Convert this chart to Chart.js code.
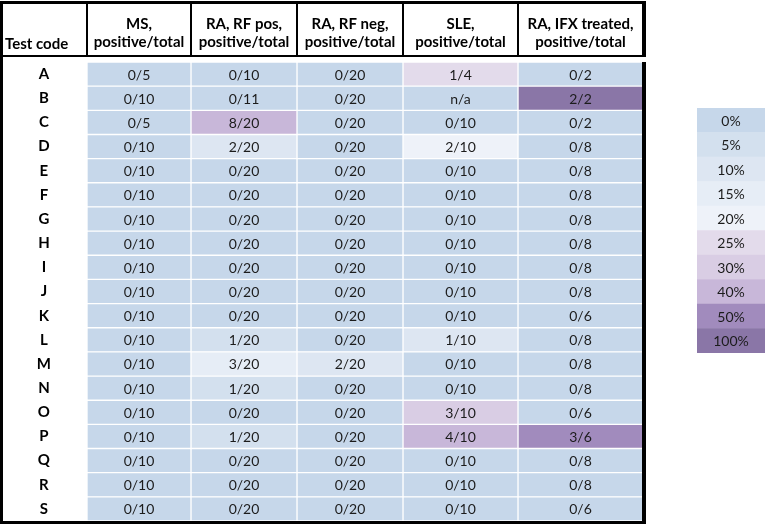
<!DOCTYPE html>
<html><head><meta charset="utf-8">
<script src="https://cdn.jsdelivr.net/npm/chart.js@4.4.1/dist/chart.umd.min.js"></script>
<style>
html,body{margin:0;padding:0;background:#fff;overflow:hidden;}
#wrap{position:relative;width:767px;height:526px;}
#main{position:absolute;left:0;top:0;}
#leg{position:absolute;left:697px;top:108px;}
</style></head><body>
<div id="wrap"><canvas id="main" width="767" height="526"></canvas><canvas id="leg" width="68" height="245"></canvas></div>
<script>
// ---------- data ----------
const rowCodes = ['A','B','C','D','E','F','G','H','I','J','K','L','M','N','O','P','Q','R','S'];
const rowHeaderTitle = 'Test code';
const columnTitles = [
  ['MS,', 'positive/total'],
  ['RA, RF pos,', 'positive/total'],
  ['RA, RF neg,', 'positive/total'],
  ['SLE,', 'positive/total'],
  ['RA, IFX treated,', 'positive/total']
];
const msCounts = ['0/5','0/10','0/5','0/10','0/10','0/10','0/10','0/10','0/10','0/10','0/10','0/10','0/10','0/10','0/10','0/10','0/10','0/10','0/10'];
const raRfPosCounts = ['0/10','0/11','8/20','2/20','0/20','0/20','0/20','0/20','0/20','0/20','0/20','1/20','3/20','1/20','0/20','1/20','0/20','0/20','0/20'];
const raRfNegCounts = ['0/20','0/20','0/20','0/20','0/20','0/20','0/20','0/20','0/20','0/20','0/20','0/20','2/20','0/20','0/20','0/20','0/20','0/20','0/20'];
const sleCounts = ['1/4','n/a','0/10','2/10','0/10','0/10','0/10','0/10','0/10','0/10','0/10','1/10','0/10','0/10','3/10','4/10','0/10','0/10','0/10'];
const raIfxCounts = ['0/2','2/2','0/2','0/8','0/8','0/8','0/8','0/8','0/8','0/8','0/6','0/8','0/8','0/8','0/6','3/6','0/8','0/8','0/6'];
const legendLabels = ['0%','5%','10%','15%','20%','25%','30%','40%','50%','100%'];
const legendThresholds = [0,5,10,15,20,25,30,40,50,100];

// ---------- styles / layout ----------
const legendColors = ['#c6d7ea','#d3e0ee','#dde6f2','#e6edf6','#eef2f9','#e3dbeb','#d9cde4','#c8b7d9','#a18bbd','#8a76a7'];
const colWidths = [104,106,106,115,125];
const FONT = 'Lato, "Open Sans", sans-serif';

const columns = [msCounts, raRfPosCounts, raRfNegCounts, sleCounts, raIfxCounts];
const colEdges = [0];
colWidths.forEach(w => colEdges.push(colEdges[colEdges.length-1] + w));

function colorFor(s) {
  if (!s.includes('/')) return legendColors[0];
  const [a, b] = s.split('/').map(Number);
  const pct = a / b * 100;
  let idx = 0;
  legendThresholds.forEach((t, i) => { if (pct + 1e-9 >= t) idx = i; });
  return legendColors[idx];
}

const tablePlugin = {
  id: 'tableDecor',
  afterDatasetsDraw(chart) {
    const ctx = chart.ctx;
    ctx.save();
    ctx.fillStyle = '#1c1c1c';
    ctx.font = '14px ' + FONT;
    ctx.textAlign = 'center';
    ctx.textBaseline = 'middle';
    chart.data.datasets.forEach((ds, di) => {
      chart.getDatasetMeta(di).data.forEach((el, j) => {
        const p = el.getProps(['x','y','base'], true);
        ctx.fillText(ds.labels[j], (p.x + p.base) / 2, p.y + 1);
      });
    });
    ctx.restore();
  },
  afterDraw(chart) {
    const ctx = chart.ctx;
    const xs = chart.scales.x;
    const px = colEdges.map(v => xs.getPixelForValue(v));
    ctx.save();
    ctx.fillStyle = '#000';
    const right = px[px.length - 1];
    // outer borders
    ctx.fillRect(0, 1, right + 3, 3);           // top
    ctx.fillRect(0, 1, 3, 523);                 // left
    ctx.fillRect(0, 521, right + 3, 3);         // bottom
    ctx.fillRect(right - 1, 1, 4, 56);          // right (header)
    ctx.fillRect(right - 1, 62, 4, 462);        // right (body)
    ctx.fillRect(0, 55, right + 3, 2);          // header bottom
    // header column lines
    for (let i = 0; i < px.length - 1; i++) ctx.fillRect(px[i] - 1, 1, 2, 56);
    // header text
    ctx.font = 'bold 15px ' + FONT;
    ctx.textBaseline = 'alphabetic';
    ctx.textAlign = 'left';
    ctx.fillText(rowHeaderTitle, 5, 49);
    ctx.textAlign = 'center';
    columnTitles.forEach((lines, i) => {
      const cx = (px[i] + px[i+1]) / 2;
      ctx.fillText(lines[0], cx, 29);
      ctx.fillText(lines[1], cx, 47);
    });
    ctx.restore();
  }
};

new Chart(document.getElementById('main'), {
  type: 'bar',
  data: {
    labels: rowCodes,
    datasets: columns.map((vals, i) => ({
      data: vals.map(() => [colEdges[i], colEdges[i+1]]),
      labels: vals,
      backgroundColor: vals.map(colorFor),
      borderColor: '#ffffff',
      borderWidth: 1,
      borderSkipped: false,
      categoryPercentage: 1,
      barPercentage: 1,
      grouped: false
    }))
  },
  options: {
    indexAxis: 'y',
    responsive: false,
    animation: false,
    events: [],
    layout: { padding: { left: 2, right: 124, top: 62, bottom: 5 } },
    scales: {
      x: { type: 'linear', min: 0, max: colEdges[colEdges.length-1], display: false },
      y: {
        type: 'category',
        offset: true,
        grid: { display: false },
        border: { display: false },
        ticks: { font: { family: FONT, weight: 'bold', size: 15 }, color: '#000', crossAlign: 'center', padding: 28 },
        afterFit(s) { s.width = 85; s.paddingTop = 0; s.paddingBottom = 0; }
      }
    },
    plugins: { legend: { display: false }, tooltip: { enabled: false } }
  },
  plugins: [tablePlugin]
});

const legendTextPlugin = {
  id: 'legText',
  afterDatasetsDraw(chart) {
    const ctx = chart.ctx;
    ctx.save();
    ctx.fillStyle = '#1c1c1c';
    ctx.font = '14px ' + FONT;
    ctx.textAlign = 'center';
    ctx.textBaseline = 'middle';
    chart.getDatasetMeta(0).data.forEach((el, j) => {
      const p = el.getProps(['x','y','base'], true);
      ctx.fillText(legendLabels[j], (p.x + p.base) / 2, p.y + 1);
    });
    ctx.restore();
  }
};

new Chart(document.getElementById('leg'), {
  type: 'bar',
  data: {
    labels: legendLabels,
    datasets: [{
      data: legendLabels.map(() => [0, 1]),
      backgroundColor: legendColors,
      borderWidth: 0,
      categoryPercentage: 1,
      barPercentage: 1
    }]
  },
  options: {
    indexAxis: 'y',
    responsive: false,
    animation: false,
    events: [],
    layout: { padding: 0 },
    scales: {
      x: { type: 'linear', min: 0, max: 1, display: false },
      y: { type: 'category', offset: true, display: false }
    },
    plugins: { legend: { display: false }, tooltip: { enabled: false } }
  },
  plugins: [legendTextPlugin]
});
</script>
</body></html>
